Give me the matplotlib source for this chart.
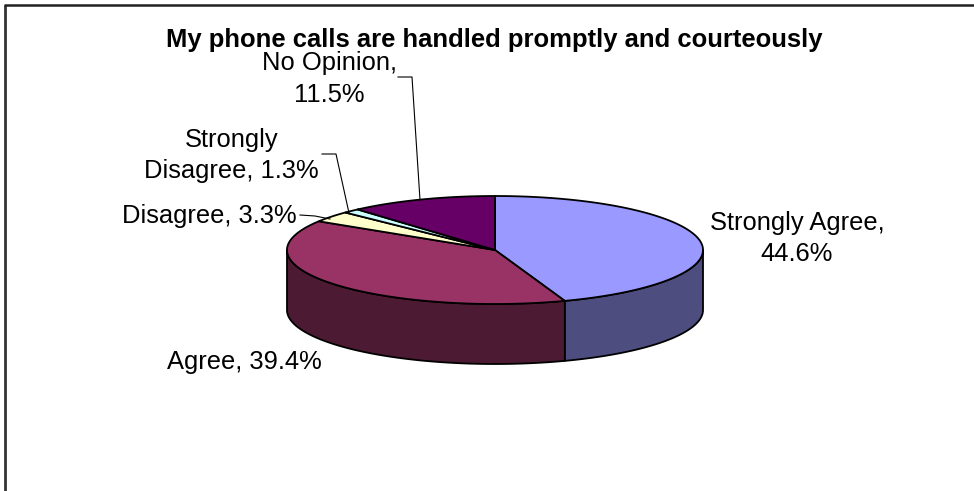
import numpy as np
import matplotlib
matplotlib.use("Agg")
import matplotlib.pyplot as plt
from matplotlib.patches import Polygon

plt.rcParams['font.family'] = ['Liberation Sans', 'DejaVu Sans']

title = "My phone calls are handled promptly and courteously"
categories = ["Strongly Agree", "Agree", "Disagree", "Strongly Disagree", "No Opinion"]
values = [44.6, 39.4, 3.3, 1.3, 11.5]
colors = ["#9999FF", "#993366", "#FFFFCC", "#CCFFFF", "#660066"]

# pie geometry, in pixels
cx, cy = 495, 250
rx, ry = 208, 54
depth = 60


def arc(a, b):
    # angles are clockwise from the top of the pie
    t = np.radians(np.linspace(a, b, max(2, int(abs(b - a) * 2))))
    return cx + rx * np.sin(t), cy - ry * np.cos(t)


def darker(color):
    r, g, b = matplotlib.colors.to_rgb(color)
    return (r * 0.5, g * 0.5, b * 0.5)


fig = plt.figure(figsize=(9.74, 4.91), dpi=100)
ax = fig.add_axes([0, 0, 1, 1])
ax.set_xlim(0, 974)
ax.set_ylim(491, 0)
ax.axis("off")

edges = np.cumsum([0] + values) / sum(values) * 360

# side wall first, only the front half of the pie shows
for i, c in enumerate(colors):
    a = max(edges[i], 90)
    b = min(edges[i + 1], 270)
    if b <= a:
        continue
    x, y = arc(a, b)
    xs = np.concatenate([x, x[::-1]])
    ys = np.concatenate([y, y[::-1] + depth])
    ax.add_patch(Polygon(np.column_stack([xs, ys]), closed=True, fc=darker(c),
                         ec="black", lw=1.3, joinstyle="round"))

# top face
for i, c in enumerate(colors):
    x, y = arc(edges[i], edges[i + 1])
    xs = np.concatenate([[cx], x])
    ys = np.concatenate([[cy], y])
    ax.add_patch(Polygon(np.column_stack([xs, ys]), closed=True, fc=c,
                         ec="black", lw=1.3, joinstyle="round"))

# chart frame, right and bottom sides fall outside the image
ax.plot([5, 5], [491, 5], color="#333333", lw=2.0, solid_capstyle="butt")
ax.plot([4, 974], [5, 5], color="#222222", lw=1.8, solid_capstyle="butt")

ax.text(494.5, 47, title, fontsize=18.45, fontweight="bold", ha="center", va="baseline", color="black")

fs = 18.4
ax.text(329, 70, "No Opinion,", fontsize=fs, ha="center", va="baseline")
ax.text(329, 102, "11.5%", fontsize=fs, ha="center", va="baseline")
ax.text(232, 147, "Strongly", fontsize=fs, ha="center", va="baseline")
ax.text(231, 178, "Disagree, 1.3%", fontsize=fs, ha="center", va="baseline")
ax.text(122, 223, "Disagree, 3.3%", fontsize=fs, ha="left", va="baseline")
ax.text(797, 230, "Strongly Agree,", fontsize=fs, ha="center", va="baseline")
ax.text(797, 261, "44.6%", fontsize=fs, ha="center", va="baseline")
ax.text(167, 369, "Agree, 39.4%", fontsize=fs, ha="left", va="baseline")

# leader lines
ax.plot([398, 412, 420], [77, 77, 200], color="black", lw=0.8)
ax.plot([322, 336, 349], [154, 154, 213], color="black", lw=0.8)
ax.plot([300, 315, 330], [215, 216, 219], color="black", lw=0.8)

fig.savefig("out.png", dpi=100, facecolor="white")
